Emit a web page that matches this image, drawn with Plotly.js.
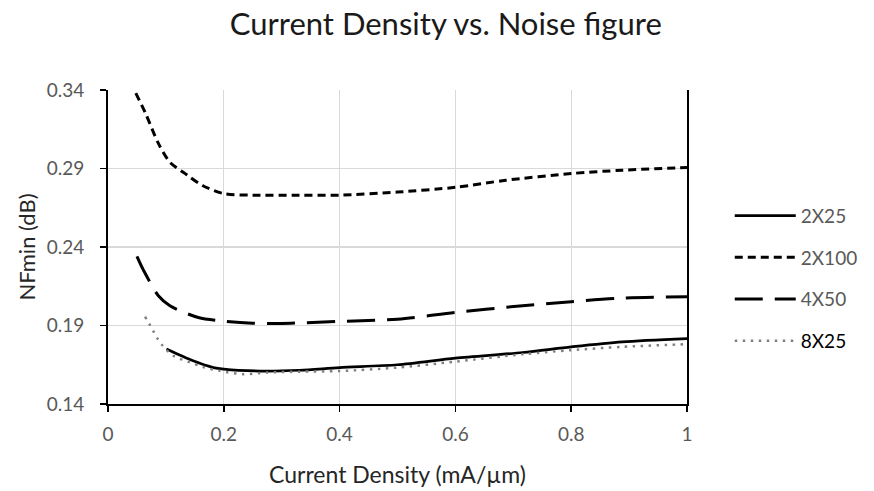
<!DOCTYPE html>
<html><head><meta charset="utf-8">
<script src="https://cdn.plot.ly/plotly-3.0.1.min.js"></script>
<style>html,body{margin:0;padding:0;background:#fff}#chart{width:874px;height:491px}</style>
</head><body><div id="chart"></div>
<script>
const seriesNames = ["2X25", "2X100", "4X50", "8X25"];

const x_2x25 = [0.101, 0.147, 0.182, 0.2, 0.262, 0.331, 0.4, 0.5, 0.6, 0.716, 0.8, 0.888, 1.0];
const y_2x25 = [0.175, 0.1675, 0.1632, 0.1622, 0.161, 0.1615, 0.1632, 0.165, 0.1692, 0.1728, 0.1764, 0.1796, 0.1817];

const x_2x100 = [0.048, 0.065, 0.087, 0.107, 0.136, 0.164, 0.2, 0.25, 0.33, 0.4, 0.5, 0.6, 0.687, 0.8, 0.888, 1.0];
const y_2x100 = [0.338, 0.325, 0.306, 0.294, 0.286, 0.279, 0.274, 0.273, 0.273, 0.273, 0.275, 0.278, 0.2825, 0.2868, 0.2889, 0.2906];

const x_4x50 = [0.05, 0.061, 0.087, 0.107, 0.156, 0.2, 0.25, 0.3, 0.4, 0.5, 0.6, 0.716, 0.8, 0.888, 1.0];
const y_4x50 = [0.234, 0.2254, 0.209, 0.2026, 0.1951, 0.1928, 0.1915, 0.1913, 0.1926, 0.194, 0.1983, 0.2026, 0.2052, 0.2075, 0.2083];

const x_8x25 = [0.064, 0.071, 0.078, 0.085, 0.093, 0.113, 0.138, 0.164, 0.193, 0.233, 0.274, 0.331, 0.4, 0.5, 0.6, 0.716, 0.8, 0.888, 1.0];
const y_8x25 = [0.1956, 0.1913, 0.1866, 0.182, 0.1777, 0.1707, 0.167, 0.1636, 0.1611, 0.159, 0.16, 0.1606, 0.161, 0.1632, 0.167, 0.1717, 0.1743, 0.1764, 0.1781];

const xTicks = [0, 0.2, 0.4, 0.6, 0.8, 1];
const xTickLabels = ["0", "0.2", "0.4", "0.6", "0.8", "1"];
const yTicks = [0.14, 0.19, 0.24, 0.29, 0.34];
const yTickLabels = ["0.14", "0.19", "0.24", "0.29", "0.34"];

const FONT = "Lato, 'Open Sans', sans-serif";

const traces = [
  {x: x_2x25, y: y_2x25, name: '<span style="color:#595959">' + seriesNames[0] + '</span>', legendgroup: 'a',
   mode: 'lines', line: {color: '#000000', width: 2.75, shape: 'spline', smoothing: 0.8}},
  {x: x_2x100, y: y_2x100, name: '<span style="color:#595959">' + seriesNames[1] + '</span>', legendgroup: 'b',
   mode: 'lines', line: {color: '#000000', width: 3, dash: '8px,5px', shape: 'spline', smoothing: 0.8}},
  {x: x_4x50, y: y_4x50, name: '<span style="color:#595959">' + seriesNames[2] + '</span>', legendgroup: 'c',
   mode: 'lines', line: {color: '#000000', width: 3, dash: '28px,12px', shape: 'spline', smoothing: 0.8}},
  {x: x_8x25, y: y_8x25, name: '<span style="color:#000000">' + seriesNames[3] + '</span>', legendgroup: 'd',
   mode: 'lines', line: {color: '#808080', width: 2.5, dash: '2.5px,5.5px', shape: 'spline', smoothing: 0.8}}
];

const layout = {
  width: 874, height: 491,
  margin: {l: 108, r: 186, t: 90, b: 87},
  paper_bgcolor: '#ffffff', plot_bgcolor: '#ffffff',
  font: {family: FONT, color: '#595959', size: 19},
  title: {text: 'Current Density vs. Noise figure', font: {family: FONT, size: 31, color: '#1a1a1a'},
          x: 0.51, xanchor: 'center', y: 0.95, yanchor: 'middle'},
  xaxis: {
    range: [0, 1], tickvals: xTicks, ticktext: xTickLabels,
    showgrid: true, gridcolor: '#d9d9d9', gridwidth: 1.3,
    showline: true, linecolor: '#000000', linewidth: 2,
    ticks: 'outside', ticklen: 6, tickcolor: '#000000', tickwidth: 1.5,
    ticklabelstandoff: 6,
    zeroline: false, tickfont: {size: 19, color: '#595959'},
    title: {text: 'Current Density (mA/µm)', font: {size: 23, color: '#262626'}, standoff: 23}
  },
  yaxis: {
    range: [0.14, 0.34], tickvals: yTicks, ticktext: yTickLabels,
    showgrid: true, gridcolor: '#d9d9d9', gridwidth: 1.3,
    showline: true, linecolor: '#000000', linewidth: 2, mirror: true,
    ticks: 'outside', ticklen: 6, tickcolor: '#000000', tickwidth: 1.5,
    ticklabelstandoff: 12,
    zeroline: false, tickfont: {size: 19, color: '#595959'},
    title: {text: 'NFmin (dB)', font: {size: 22, color: '#262626'}, standoff: 5}
  },
  showlegend: true,
  legend: {x: 1.072, y: 0.66, xanchor: 'left', yanchor: 'top', font: {size: 19},
           tracegroupgap: 14, itemwidth: 61, bgcolor: 'rgba(0,0,0,0)'}
};

Plotly.newPlot('chart', traces, layout, {displayModeBar: false, staticPlot: true});
</script></body></html>
